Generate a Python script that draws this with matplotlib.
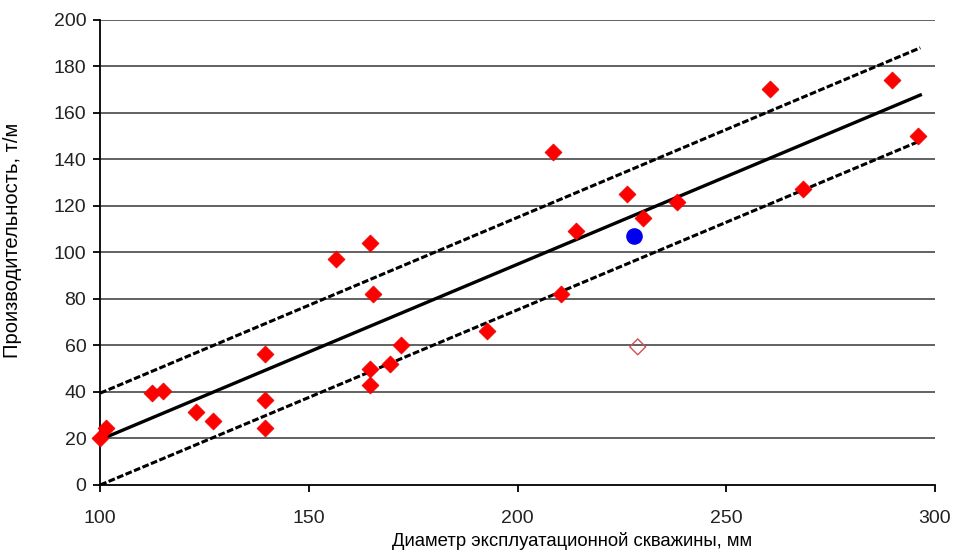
import numpy as np
import matplotlib.pyplot as plt

plt.rcParams['font.family'] = ['Liberation Sans', 'DejaVu Sans']

# measured wells: diameter (mm) and productivity (t/m)
diam = np.array([100, 101.5, 112.5, 115, 123, 127, 139.5, 139.5, 139.5, 156.5,
                 164.7, 165.4, 164.7, 164.7, 169.5, 172, 192.8, 208.6, 210.5,
                 214, 226.3, 230, 238.3, 260.6, 268.5, 289.6, 296])
prod = np.array([20, 24.5, 39.5, 40.5, 31.5, 27.5, 56.3, 36.6, 24.5, 97.2,
                 104, 82, 50, 43, 52, 60.3, 66.2, 143.2, 82.2,
                 109.2, 125.2, 114.8, 121.8, 170.3, 127.3, 174.2, 150.1])

# highlighted points
blue_x, blue_y = [227.9], [107.1]
hollow_x, hollow_y = [228.8], [59.4]

# trend line and band (ends)
line_x = [100, 296.5]
trend_y = [19.5, 167.7]
upper_y = [39.5, 188.0]
lower_y = [0, 148.0]

fig, ax = plt.subplots(figsize=(9.54, 5.53), dpi=100)
fig.subplots_adjust(left=0.105, right=0.98, top=0.964, bottom=0.123)

for yv in range(20, 201, 20):
    ax.axhline(yv, color='#555555', lw=1.3, zorder=1)

ax.plot(line_x, upper_y, color='black', lw=2.2, ls=(0, (2.2, 0.8)), zorder=2)
ax.plot(line_x, lower_y, color='black', lw=2.2, ls=(0, (2.2, 0.8)), zorder=2)
ax.plot(line_x, trend_y, color='black', lw=2.4, zorder=2)

ax.scatter(diam, prod, marker='D', s=75, color='#ff0000', edgecolors='#ee0000',
           linewidths=0.5, zorder=3, clip_on=False)
ax.scatter(hollow_x, hollow_y, marker='D', s=65, facecolors='none',
           edgecolors='#d05050', linewidths=1.0, zorder=3)
ax.scatter(blue_x, blue_y, marker='o', s=120, color='#0000ee', zorder=4)

ax.set_xlim(100, 300)
ax.set_ylim(0, 200)
ax.set_xticks([100, 150, 200, 250, 300])
ax.set_yticks(range(0, 201, 20))
for s in ['top', 'right']:
    ax.spines[s].set_visible(False)
for s in ['left', 'bottom']:
    ax.spines[s].set_linewidth(1.3)
ax.tick_params(axis='both', direction='out', length=5, width=1.3,
               labelsize=14, colors='black', labelcolor='#222222')
ax.tick_params(axis='x', pad=13)
ax.tick_params(axis='y', pad=5)

ax.set_xlabel('Диаметр эксплуатационной скважины, мм', fontsize=13.3)
ax.xaxis.set_label_coords(0.565, -0.101)
ax.set_ylabel('Производительность, т/м', fontsize=14.5)
ax.yaxis.set_label_coords(-0.094, 0.527)

fig.savefig('out.png', dpi=100)
